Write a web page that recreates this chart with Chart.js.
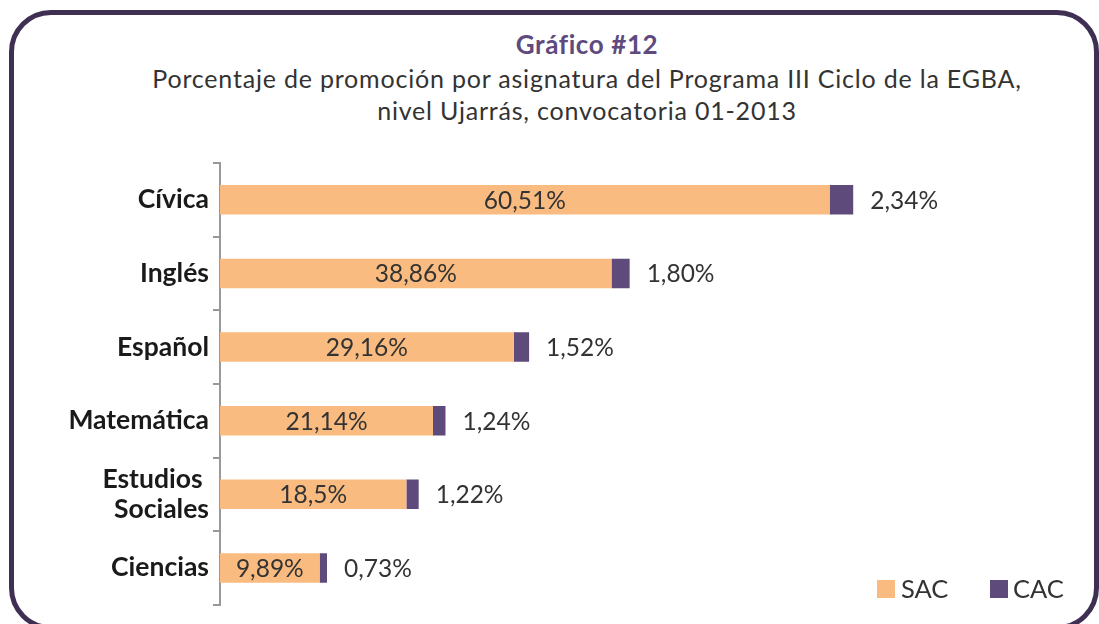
<!DOCTYPE html>
<html>
<head>
<meta charset="utf-8">
<script src="https://cdn.jsdelivr.net/npm/chart.js@4/dist/chart.umd.min.js"></script>
<style>
  html, body { margin: 0; padding: 0; background: #fff; overflow: hidden; }
  #wrap { position: relative; width: 1099px; height: 624px; }
  #frame {
    position: absolute; left: 9px; top: 10px; width: 1090px; height: 620px;
    border: 5px solid #3f3053; border-radius: 42px; box-sizing: border-box;
  }
  .t { position: absolute; left: 87px; width: 1000px; text-align: center; font-family: Lato, sans-serif; }
  #t1 { top: 28px; font-size: 26px; font-weight: bold; color: #5e4a7e; letter-spacing: 0.6px; }
  #t2 { top: 62px; font-size: 25px; color: #333; line-height: 32px; letter-spacing: 0.8px; }
  canvas { position: absolute; left: 0; top: 0; }
</style>
</head>
<body>
<div id="wrap">
  <div id="frame"></div>
  <div class="t" id="t1">Gráfico #12</div>
  <div class="t" id="t2">Porcentaje de promoción por asignatura del Programa III Ciclo de la EGBA,<br>nivel Ujarrás, convocatoria 01-2013</div>
  <canvas id="chart" width="1099" height="624"></canvas>
</div>
<script>
// Datos del gráfico
const asignaturas = ["Cívica", "Inglés", "Español", "Matemática", ["Estudios ", "Sociales"], "Ciencias"];
const sac = [60.51, 38.86, 29.16, 21.14, 18.5, 9.89];
const cac = [2.34, 1.80, 1.52, 1.24, 1.22, 0.73];

const colorSAC = "#f9bb80";
const colorCAC = "#5f4a7c";

// Etiquetas de valores dentro y al lado de las barras
const etiquetas = {
  id: "etiquetas",
  afterDatasetsDraw(chart) {
    const ctx = chart.ctx;
    ctx.save();
    ctx.font = "24.5px Lato, sans-serif";
    ctx.fillStyle = "#333";
    ctx.textBaseline = "middle";
    const m0 = chart.getDatasetMeta(0);
    const m1 = chart.getDatasetMeta(1);
    m0.data.forEach((bar, i) => {
      ctx.textAlign = "center";
      const x = (bar.base + bar.x) / 2;
      ctx.fillText(String(sac[i]).replace(".", ",") + "%", x, bar.y + 1);
    });
    m1.data.forEach((bar, i) => {
      ctx.textAlign = "left";
      ctx.fillText(cac[i].toFixed(2).replace(".", ",") + "%", bar.x + 17, bar.y + 1);
    });
    // leyenda
    ctx.font = "25.5px Lato, sans-serif";
    ctx.fillStyle = colorSAC;
    ctx.fillRect(877, 580, 18, 18);
    ctx.fillStyle = colorCAC;
    ctx.fillRect(990, 580, 18, 18);
    ctx.fillStyle = "#333";
    ctx.fillText("SAC", 901, 590);
    ctx.fillText("CAC", 1013, 590);
    ctx.restore();
  }
};

const ctx = document.getElementById("chart").getContext("2d");
new Chart(ctx, {
  type: "bar",
  data: {
    labels: asignaturas,
    datasets: [
      { label: "SAC", data: sac, backgroundColor: colorSAC, barPercentage: 0.4, categoryPercentage: 1 },
      { label: "CAC", data: cac, backgroundColor: colorCAC, barPercentage: 0.4, categoryPercentage: 1 }
    ]
  },
  options: {
    indexAxis: "y",
    responsive: false,
    animation: false,
    layout: { padding: { top: 163, bottom: 18, left: 0, right: 73 } },
    plugins: { legend: { display: false }, tooltip: { enabled: false } },
    scales: {
      x: { stacked: true, display: false, min: 0, max: 80 },
      y: {
        stacked: true,
        afterFit(scale) { scale.width = 220; },
        border: { color: "#999", width: 2 },
        grid: { drawOnChartArea: false, drawTicks: true, tickLength: 7, color: "#999", lineWidth: 2, offset: true },
        ticks: { color: "#1a1a1a", padding: 4, font: { family: "Lato, sans-serif", size: 26.5, weight: "bold", lineHeight: 1.15 } }
      }
    }
  },
  plugins: [etiquetas]
});
</script>
</body>
</html>
